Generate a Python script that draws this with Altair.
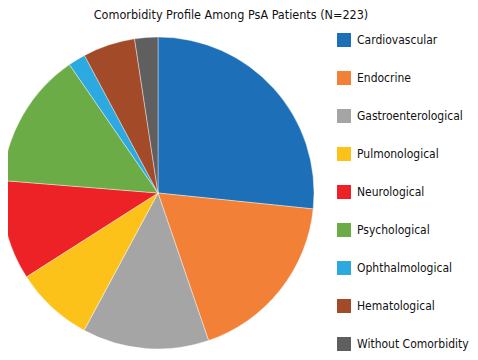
import altair as alt
import pandas as pd

categories = ["Cardiovascular", "Endocrine", "Gastroenterological", "Pulmonological",
              "Neurological", "Psychological", "Ophthalmological", "Hematological",
              "Without Comorbidity"]
shares = [26.6, 18.1, 13.1, 8.1, 10.3, 14.1, 1.8, 5.4, 2.4]
colors = ["#1D6FB8", "#F28036", "#A5A5A5", "#FDC21A", "#EC2227", "#6CAC46",
          "#2BA9E0", "#A34A28", "#5F5F5F"]

df = pd.DataFrame({"category": categories, "share": shares, "idx": list(range(len(categories)))})

FONT = "DejaVu Sans Condensed, Roboto, sans-serif"

chart = alt.Chart(df).mark_arc(outerRadius=156, stroke="#ffffff", strokeWidth=0.4).encode(
    theta=alt.Theta("share:Q", stack=True),
    order=alt.Order("idx:Q"),
    x=alt.value(150),
    y=alt.value(185),
    color=alt.Color(
        "category:N",
        scale=alt.Scale(domain=categories, range=colors),
        sort=categories,
        legend=alt.Legend(
            title=None, orient="none", legendX=329, legendY=25,
            symbolType="square", symbolSize=196, symbolStrokeWidth=0,
            symbolOpacity=1,
            labelFont=FONT, labelFontSize=12, labelColor="#111111",
            labelOffset=6, rowPadding=24, padding=0, labelLimit=200,
        ),
    ),
).properties(
    width=462, height=344,
    padding=0,
    autosize=alt.AutoSizeParams(type="none"),
    title=alt.TitleParams(
        "Comorbidity Profile Among PsA Patients (N=223)",
        font=FONT, fontSize=12.5, fontWeight="normal", color="#111111",
        anchor="middle", dx=-8, offset=-13,
    ),
).configure_view(stroke=None)

chart.save("out.html", embed_options={"renderer": "svg", "actions": False})
